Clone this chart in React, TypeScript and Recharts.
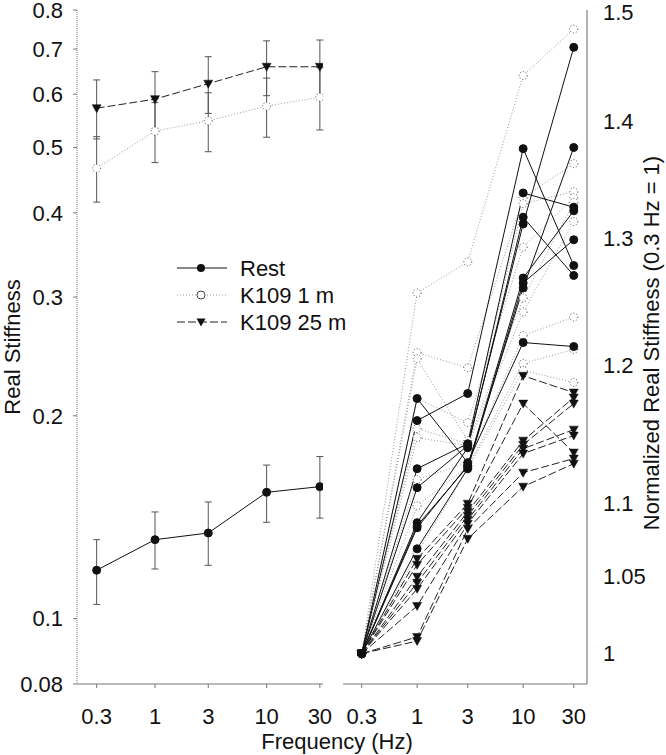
import React from 'react';
import { LineChart, Line, XAxis, YAxis, ErrorBar, Legend } from 'recharts';

// ---------- data ----------
const freqs = [0.3, 1, 3, 10, 30];
const freqTicks = [0.3, 1, 3, 10, 30];
const leftYTicks = [0.08, 0.1, 0.2, 0.3, 0.4, 0.5, 0.6, 0.7, 0.8];
const rightYTicks = [1, 1.05, 1.1, 1.2, 1.3, 1.4, 1.5];

// Left panel: mean real stiffness with error bar ends
const restMean = [0.118, 0.131, 0.134, 0.154, 0.157];
const restUpper = [0.131, 0.144, 0.149, 0.169, 0.174];
const restLower = [0.105, 0.1185, 0.12, 0.139, 0.141];

const k1Mean = [0.466, 0.529, 0.548, 0.576, 0.594];
const k1Upper = [0.519, 0.583, 0.603, 0.634, 0.657];
const k1Lower = [0.415, 0.475, 0.493, 0.518, 0.531];

const k25Mean = [0.572, 0.59, 0.622, 0.659, 0.659];
const k25Upper = [0.63, 0.648, 0.682, 0.72, 0.722];
const k25Lower = [0.515, 0.533, 0.562, 0.597, 0.596];

// Right panel: individual normalized curves (0.3 Hz = 1)
const restNormalized = [
  [1, 1.1587, 1.1787, 1.376, 1.278],
  [1, 1.124, 1.1419, 1.338, 1.326],
  [1, 1.1106, 1.1405, 1.312, 1.467],
  [1, 1.0863, 1.139, 1.3176, 1.27],
  [1, 1.0828, 1.1262, 1.26, 1.377],
  [1, 1.0685, 1.124, 1.264, 1.299],
  [1, 1.175, 1.1283, 1.2173, 1.2142],
  [1, 1.0842, 1.1255, 1.268, 1.323],
];
const k1Normalized = [
  [1, 1.256, 1.281, 1.441, 1.484],
  [1, 1.2096, 1.198, 1.334, 1.363],
  [1, 1.205, 1.1441, 1.329, 1.339],
  [1, 1.175, 1.1572, 1.293, 1.334],
  [1, 1.1529, 1.1419, 1.252, 1.33],
  [1, 1.1463, 1.1405, 1.241, 1.314],
  [1, 1.1162, 1.1283, 1.2227, 1.237],
  [1, 1.098, 1.1255, 1.2013, 1.212],
  [1, 1.0651, 1.124, 1.196, 1.187],
];
const k25Normalized = [
  [1, 1.0618, 1.0994, 1.192, 1.1794],
  [1, 1.0578, 1.0966, 1.1712, 1.1355],
  [1, 1.0498, 1.0938, 1.1441, 1.1757],
  [1, 1.0458, 1.091, 1.1412, 1.1712],
  [1, 1.0418, 1.0883, 1.1383, 1.1521],
  [1, 1.0306, 1.0856, 1.1348, 1.1478],
  [1, 1.0106, 1.0821, 1.1212, 1.1312],
  [1, 1.008, 1.0753, 1.1113, 1.1276],
];

const seriesNames = ['Rest', 'K109 1 m', 'K109 25 m'];

// ---------- tables ----------
const leftTable = freqs.map((f, i) => ({
  f,
  rest: restMean[i],
  restErr: [restMean[i] - restLower[i], restUpper[i] - restMean[i]],
  k1: k1Mean[i],
  k1Err: [k1Mean[i] - k1Lower[i], k1Upper[i] - k1Mean[i]],
  k25: k25Mean[i],
  k25Err: [k25Mean[i] - k25Lower[i], k25Upper[i] - k25Mean[i]],
}));

const rightTable = freqs.map((f, i) => {
  const row: any = { f };
  restNormalized.forEach((s, j) => (row['r' + j] = s[i]));
  k1Normalized.forEach((s, j) => (row['o' + j] = s[i]));
  k25Normalized.forEach((s, j) => (row['t' + j] = s[i]));
  return row;
});

// ---------- styles ----------
const FONT = '"Liberation Sans", Arial, Helvetica, sans-serif';
const tickStyle = { fontSize: 22, fill: '#111', fontFamily: FONT };
const REST_STROKE = '#111';
const K1_STROKE = '#9a9a9a';
const K25_STROKE = '#222';
const K1_DASH = '1 2';
const K25_DASH = '8 3';

const restDot = { r: 4, fill: '#111', stroke: '#111', strokeWidth: 1 };
const openDot = { r: 4, fill: '#fff', stroke: '#444', strokeWidth: 1 };

const TriangleDot = (props: any) => {
  const { cx, cy } = props;
  if (cx == null || cy == null) return <g key={props.key} />;
  return (
    <path
      key={props.key ?? `${cx}-${cy}`}
      d={`M${cx - 4.5},${cy - 3.5} L${cx + 4.5},${cy - 3.5} L${cx},${cy + 4.5} Z`}
      fill="#111"
      stroke="#111"
      strokeWidth={0.5}
    />
  );
};
const triangleDot = (p: any) => <TriangleDot {...p} key={p.key ?? p.index} />;

const LegendBox = () => {
  const rows = [
    { name: seriesNames[0], stroke: REST_STROKE, dash: undefined, kind: 'fill' },
    { name: seriesNames[1], stroke: K1_STROKE, dash: K1_DASH, kind: 'open' },
    { name: seriesNames[2], stroke: K25_STROKE, dash: K25_DASH, kind: 'tri' },
  ];
  return (
    <svg width={180} height={84} style={{ overflow: 'visible', display: 'block' }}>
      {rows.map((r, i) => {
        const y = 16 + i * 27;
        return (
          <g key={r.name}>
            <line x1={7} x2={57} y1={y} y2={y} stroke={r.stroke} strokeDasharray={r.dash} strokeWidth={1} />
            {r.kind === 'fill' && <circle cx={31} cy={y} r={4} fill="#111" />}
            {r.kind === 'open' && <circle cx={31} cy={y} r={4} fill="#fff" stroke="#444" />}
            {r.kind === 'tri' && (
              <path d={`M${31 - 4.5},${y - 3.5} L${31 + 4.5},${y - 3.5} L31,${y + 4.5} Z`} fill="#111" />
            )}
            <text x={70} y={y} dominantBaseline="central" fontSize={22} fontFamily={FONT} fill="#111">
              {r.name}
            </text>
          </g>
        );
      })}
    </svg>
  );
};

const leftTitle = () => (
  <text
    x={12}
    y={347}
    transform="rotate(-90 12 347)"
    textAnchor="middle"
    dominantBaseline="central"
    fontSize={22}
    fontFamily={FONT}
    fill="#111"
  >
    Real Stiffness
  </text>
);

const rightTitle = () => (
  <text
    x={321}
    y={343}
    transform="rotate(-90 321 343)"
    textAnchor="middle"
    dominantBaseline="central"
    fontSize={22}
    fontFamily={FONT}
    fill="#111"
  >
    Normalized Real Stiffness (0.3 Hz = 1)
  </text>
);

export default function App() {
  return (
    <div style={{ position: 'absolute', left: 0, top: 0, width: 666, height: 755, background: '#fff', fontFamily: FONT }}>
      <div style={{ position: 'absolute', left: 0, top: 0 }}>
        <LineChart
          width={340}
          height={755}
          data={leftTable}
          margin={{ top: 10, right: 17, bottom: 0, left: 0 }}
          style={{ overflow: 'visible' }}
        >
          <XAxis
            dataKey="f"
            type="number"
            scale="log"
            domain={[0.2, 32]}
            ticks={freqTicks}
            interval={0}
            allowDataOverflow
            height={71}
            tickSize={4}
            tickMargin={20}
            tick={tickStyle}
            axisLine={{ stroke: '#777' }}
            tickLine={{ stroke: '#777' }}
          />
          <YAxis
            type="number"
            scale="log"
            domain={[0.08, 0.8]}
            ticks={leftYTicks}
            interval={0}
            allowDataOverflow
            width={77}
            tickSize={4}
            tickMargin={10}
            tick={tickStyle}
            axisLine={{ stroke: '#777', strokeDasharray: '1 1' }}
            tickLine={{ stroke: '#777' }}
            label={leftTitle}
          />
          <Line dataKey="k1" name={seriesNames[1]} stroke={K1_STROKE} strokeDasharray={K1_DASH} strokeWidth={1} dot={openDot} activeDot={false} isAnimationActive={false}>
            <ErrorBar dataKey="k1Err" direction="y" width={3.5} stroke="#555" strokeWidth={1} />
          </Line>
          <Line dataKey="k25" name={seriesNames[2]} stroke={K25_STROKE} strokeDasharray={K25_DASH} strokeWidth={1} dot={triangleDot} activeDot={false} isAnimationActive={false}>
            <ErrorBar dataKey="k25Err" direction="y" width={3.5} stroke="#555" strokeWidth={1} />
          </Line>
          <Line dataKey="rest" name={seriesNames[0]} stroke={REST_STROKE} strokeWidth={1} dot={restDot} activeDot={false} isAnimationActive={false}>
            <ErrorBar dataKey="restErr" direction="y" width={3.5} stroke="#555" strokeWidth={1} />
          </Line>
          <Legend
            layout="vertical"
            align="center"
            verticalAlign="middle"
            content={() => <LegendBox />}
            wrapperStyle={{ position: 'absolute', left: 170, top: 252, width: 180, height: 84, margin: 0, padding: 0 }}
          />
        </LineChart>
      </div>
      <div style={{ position: 'absolute', left: 330, top: 0 }}>
        <LineChart
          width={336}
          height={755}
          data={rightTable}
          margin={{ top: 10, right: 0, bottom: 0, left: 13 }}
          style={{ overflow: 'visible' }}
        >
          <XAxis
            dataKey="f"
            type="number"
            scale="log"
            domain={[0.2, 40]}
            ticks={freqTicks}
            interval={0}
            allowDataOverflow
            height={71}
            tickSize={4}
            tickMargin={20}
            tick={tickStyle}
            axisLine={{ stroke: '#777' }}
            tickLine={{ stroke: '#777' }}
          />
          <YAxis
            orientation="right"
            type="number"
            scale="log"
            domain={[0.981, 1.502]}
            ticks={rightYTicks}
            interval={0}
            allowDataOverflow
            width={79}
            tickSize={4}
            tickMargin={12}
            tick={tickStyle}
            axisLine={{ stroke: '#666' }}
            tickLine={false}
            label={rightTitle}
          />
          {k1Normalized.map((_, j) => (
            <Line key={'o' + j} dataKey={'o' + j} stroke={K1_STROKE} strokeDasharray={K1_DASH} strokeWidth={1} dot={openDot} activeDot={false} isAnimationActive={false} />
          ))}
          {k25Normalized.map((_, j) => (
            <Line key={'t' + j} dataKey={'t' + j} stroke={K25_STROKE} strokeDasharray={K25_DASH} strokeWidth={1} dot={triangleDot} activeDot={false} isAnimationActive={false} />
          ))}
          {restNormalized.map((_, j) => (
            <Line key={'r' + j} dataKey={'r' + j} stroke={REST_STROKE} strokeWidth={1} dot={restDot} activeDot={false} isAnimationActive={false} />
          ))}
        </LineChart>
      </div>
      <div
        style={{
          position: 'absolute',
          left: 237,
          width: 200,
          top: 731,
          textAlign: 'center',
          fontSize: 22,
          lineHeight: '22px',
          color: '#111',
          fontFamily: FONT,
        }}
      >
        Frequency (Hz)
      </div>
    </div>
  );
}
